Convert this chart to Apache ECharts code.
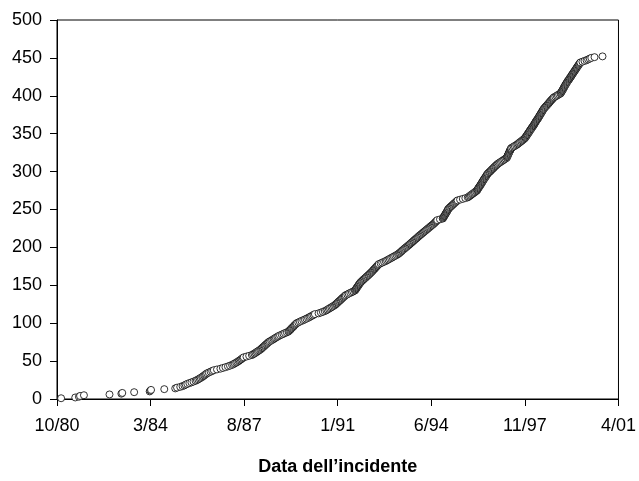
<!DOCTYPE html>
<html>
<head>
<meta charset="utf-8">
<script src="https://cdn.jsdelivr.net/npm/echarts@6/dist/echarts.min.js"></script>
<style>html,body{margin:0;padding:0;background:#fff}#c{width:639px;height:481px}</style>
</head>
<body>
<div id="c"></div>
<script>
// Tick labels of the x axis (one every 41 months, starting 10/80)
var xTickLabels = ['10/80', '3/84', '8/87', '1/91', '6/94', '11/97', '4/01'];
// Date of each incident, in months after October 1980 (sorted); the y value is the cumulative count
var incidentMonths = [
1.8,8.0,9.6,10.1,11.8,23.0,28.2,28.6,33.8,40.6,
40.9,41.2,47.0,51.8,52.6,54.0,55.0,55.8,56.4,57.1,
58.0,58.9,59.8,60.7,61.3,61.9,62.5,63.0,63.6,64.0,
64.5,64.9,65.3,65.8,66.5,67.3,68.0,68.7,70.1,71.6,
72.7,73.8,74.9,75.8,76.7,77.3,77.9,78.5,79.0,79.6,
80.0,80.5,80.9,81.4,81.8,83.0,84.2,85.4,85.9,86.5,
87.0,87.5,88.0,88.5,89.0,89.4,89.8,90.1,90.5,90.9,
91.2,91.6,92.0,92.3,92.7,93.2,93.8,94.3,94.9,95.4,
95.9,96.5,97.0,97.7,98.5,99.2,99.9,100.7,101.4,101.7,
102.1,102.4,102.7,103.0,103.4,103.7,104.0,104.3,104.7,105.0,
105.7,106.4,107.1,107.9,108.6,109.3,110.0,110.6,111.2,111.8,
112.4,113.0,114.6,115.6,116.5,117.3,118.0,118.5,119.1,119.6,
120.2,120.7,121.3,121.8,122.2,122.5,122.9,123.2,123.6,124.0,
124.3,124.7,125.0,125.4,125.8,126.1,126.5,127.2,127.8,128.5,
129.2,129.8,130.5,130.7,131.0,131.2,131.4,131.6,131.9,132.1,
132.3,132.5,132.8,133.0,133.4,133.7,134.1,134.4,134.8,135.2,
135.5,135.9,136.3,136.6,137.0,137.3,137.7,138.0,138.3,138.6,
138.9,139.2,139.5,139.8,140.1,140.4,140.7,141.0,141.8,142.5,
143.3,144.0,144.6,145.2,145.8,146.4,147.0,147.6,148.2,148.8,
149.4,149.8,150.2,150.6,151.0,151.3,151.7,152.1,152.5,152.9,
153.3,153.7,154.1,154.5,154.8,155.2,155.6,156.0,156.3,156.7,
157.1,157.5,157.9,158.2,158.6,159.0,159.4,159.8,160.2,160.6,
161.0,161.4,161.8,162.2,162.6,163.0,163.4,163.8,164.2,164.6,
165.0,165.4,165.7,166.0,166.3,166.6,167.8,169.0,169.2,169.4,
169.6,169.8,170.0,170.2,170.4,170.6,170.8,171.0,171.2,171.3,
171.5,171.9,172.2,172.6,172.9,173.3,173.7,174.0,174.4,174.8,
175.1,175.5,176.6,177.8,178.9,180.0,180.4,180.9,181.3,181.8,
182.2,182.7,183.1,183.6,184.0,184.2,184.4,184.6,184.8,185.0,
185.3,185.5,185.7,185.9,186.1,186.3,186.5,186.7,186.9,187.1,
187.3,187.6,187.8,188.0,188.2,188.4,188.6,188.9,189.3,189.6,
190.0,190.3,190.6,191.0,191.3,191.6,192.0,192.3,192.7,193.0,
193.5,194.0,194.5,195.0,195.5,196.0,196.5,197.0,197.2,197.3,
197.5,197.6,197.8,197.9,198.1,198.2,198.4,198.5,198.7,198.8,
199.0,199.5,200.1,200.6,201.2,201.7,202.1,202.5,202.9,203.4,
203.8,204.2,204.6,205.0,205.2,205.4,205.7,205.9,206.1,206.3,
206.6,206.8,207.0,207.2,207.4,207.7,207.9,208.1,208.3,208.6,
208.8,209.0,209.2,209.4,209.6,209.8,210.0,210.2,210.5,210.7,
210.9,211.1,211.3,211.5,211.7,211.9,212.1,212.3,212.5,212.7,
212.9,213.1,213.3,213.6,213.9,214.2,214.5,214.8,215.1,215.4,
215.6,215.9,216.2,216.5,216.8,217.1,217.4,217.7,218.3,218.9,
219.4,220.0,220.6,220.8,221.0,221.2,221.4,221.6,221.8,222.0,
222.1,222.3,222.5,222.7,222.9,223.1,223.3,223.5,223.7,223.9,
224.2,224.4,224.6,224.8,225.1,225.3,225.5,225.7,225.9,226.2,
226.4,226.6,226.8,227.1,227.3,227.5,227.7,227.9,228.2,228.4,
228.6,228.8,229.1,229.3,230.2,231.1,232.0,232.7,233.4,234.1,
235.5,239.0
];
var xAxisTitle = 'Data dell\u2019incidente';

var points = incidentMonths.map(function (m, i) { return [m, i + 1]; });

var chart = echarts.init(document.getElementById('c'), null, {renderer: 'canvas'});
var font = '"Liberation Sans", Arial, sans-serif';
chart.setOption({
  animation: false,
  backgroundColor: '#fff',
  grid: {left: 57, right: 18, top: 20, bottom: 76, show: true, borderColor: '#000', borderWidth: 1, backgroundColor: '#fff'},
  xAxis: {
    type: 'value', min: 0, max: 246, interval: 41,
    name: xAxisTitle, nameLocation: 'middle', nameGap: 59,
    nameTextStyle: {fontFamily: font, fontSize: 18, fontWeight: 'bold', color: '#000'},
    axisLine: {show: true, lineStyle: {color: '#000', width: 1}},
    axisTick: {show: true, length: 7, inside: false, lineStyle: {color: '#000'}},
    splitLine: {show: false},
    axisLabel: {
      margin: 18, fontFamily: font, fontSize: 18, color: '#000',
      formatter: function (v) { var k = Math.round(v / 41); return xTickLabels[k] || ''; }
    }
  },
  yAxis: {
    type: 'value', min: 0, max: 500, interval: 50,
    axisLine: {show: true, lineStyle: {color: '#000', width: 1}},
    axisTick: {show: true, length: 7, inside: false, lineStyle: {color: '#000'}},
    splitLine: {show: false},
    axisLabel: {margin: 15, fontFamily: font, fontSize: 18, color: '#000'}
  },
  series: [{
    type: 'scatter',
    data: points,
    symbol: 'circle',
    symbolSize: 7,
    itemStyle: {color: '#fff', borderColor: '#000', borderWidth: 0.8, opacity: 1}
  }]
});
</script>
</body>
</html>
